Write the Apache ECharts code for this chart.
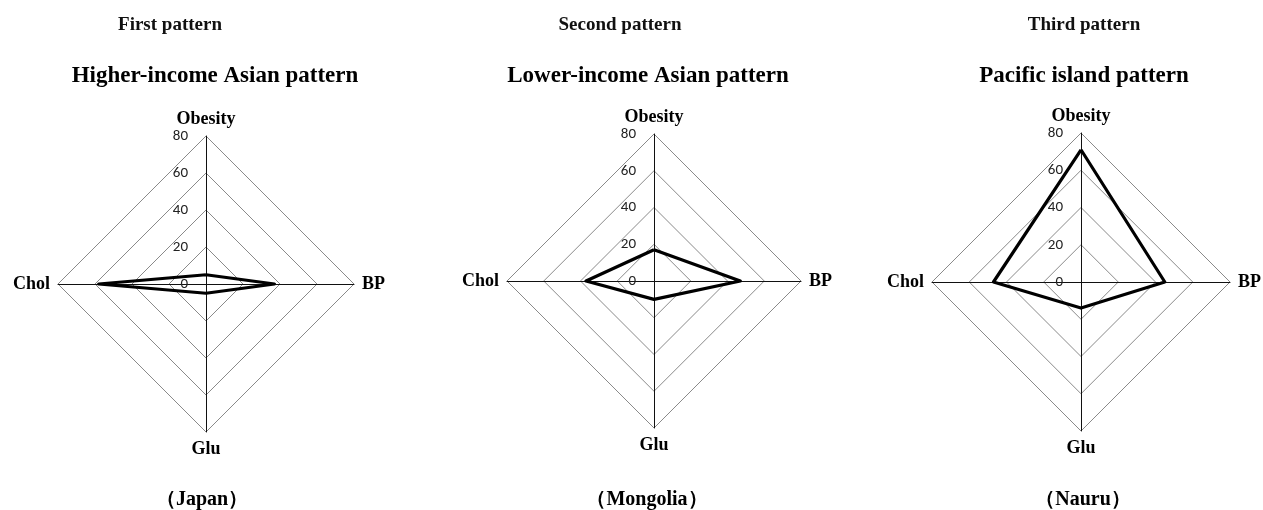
<!DOCTYPE html>
<html>
<head>
<meta charset="utf-8">
<script src="https://cdn.jsdelivr.net/npm/echarts@6/dist/echarts.min.js"></script>
<style>
  html, body { margin: 0; padding: 0; background: #fff; }
  #chart { width: 1263px; height: 510px; }
</style>
</head>
<body>
<div id="chart"></div>
<script>
// Risk-factor axes (first at top, then counter-clockwise)
const indicatorNames = ['Obesity', 'Chol', 'Glu', 'BP'];
const axisMax = 80;
const tickLabels = ['0', '20', '40', '60', '80'];

// Pattern headings, subtitles and country names
const patternLabels = ['First pattern', 'Second pattern', 'Third pattern'];
const patternTitles = ['Higher-income Asian pattern', 'Lower-income Asian pattern', 'Pacific island pattern'];
const countries = ['（Japan）', '（Mongolia）', '（Nauru）'];

// Values per country, in indicator order: Obesity, Chol, Glu, BP
const japanValues = [5, 58, 5, 37];
const mongoliaValues = [17, 37, 10, 47];
const nauruValues = [71, 47, 14, 45];
const seriesValues = [japanValues, mongoliaValues, nauruValues];

// Panel layout
const centers = [[206, 284], [654, 281], [1081, 282]];
const radii = [148, 147, 149];
const labelX = [[170, 215], [620, 648], [1084, 1084]];
const countryX = [202, 647, 1083];

const serif = '"Liberation Serif", "Times New Roman", serif';

function buildRadar(i) {
  return {
    center: centers[i],
    radius: radii[i],
    startAngle: 90,
    shape: 'polygon',
    splitNumber: 4,
    indicator: indicatorNames.map((name, k) => {
      const ind = { name: name, min: 0, max: axisMax };
      if (k === 0) {
        ind.axisLabel = {
          show: true,
          margin: 18,
          color: '#222',
          fontSize: 15,
          fontFamily: 'Carlito, "Open Sans", "Liberation Sans", sans-serif',
          formatter: (v) => tickLabels.indexOf(String(v)) >= 0 ? String(v) : ''
        };
      }
      return ind;
    }),
    axisName: {
      color: '#000',
      fontFamily: serif,
      fontWeight: 'bold',
      fontSize: 18
    },
    nameGap: 8,
    axisLine: { lineStyle: { color: '#111', width: 1 } },
    splitLine: { lineStyle: { color: '#8a8a8a', width: 1 } },
    splitArea: { show: false },
    axisTick: { show: false },
    axisLabel: { show: false }
  };
}

const graphics = [];
for (let i = 0; i < 3; i++) {
  graphics.push({
    type: 'text',
    style: {
      x: labelX[i][0], y: 25, text: patternLabels[i],
      font: 'bold 19px ' + serif, fill: '#111',
      textAlign: 'center', textVerticalAlign: 'middle'
    }
  });
  graphics.push({
    type: 'text',
    style: {
      x: labelX[i][1], y: 76, text: patternTitles[i],
      font: 'bold 23px ' + serif, fill: '#000',
      textAlign: 'center', textVerticalAlign: 'middle'
    }
  });
  graphics.push({
    type: 'text',
    style: {
      x: countryX[i], y: 500, text: countries[i],
      font: 'bold 20px ' + serif, fill: '#000',
      textAlign: 'center', textVerticalAlign: 'middle'
    }
  });
}

const chart = echarts.init(document.getElementById('chart'), null, { renderer: 'canvas' });
chart.setOption({
  animation: false,
  backgroundColor: '#fff',
  radar: [0, 1, 2].map(buildRadar),
  series: seriesValues.map((vals, i) => ({
    type: 'radar',
    radarIndex: i,
    symbol: 'none',
    lineStyle: { color: '#000', width: 3.2 },
    data: [{ value: vals }]
  })),
  graphic: graphics
});
</script>
</body>
</html>
